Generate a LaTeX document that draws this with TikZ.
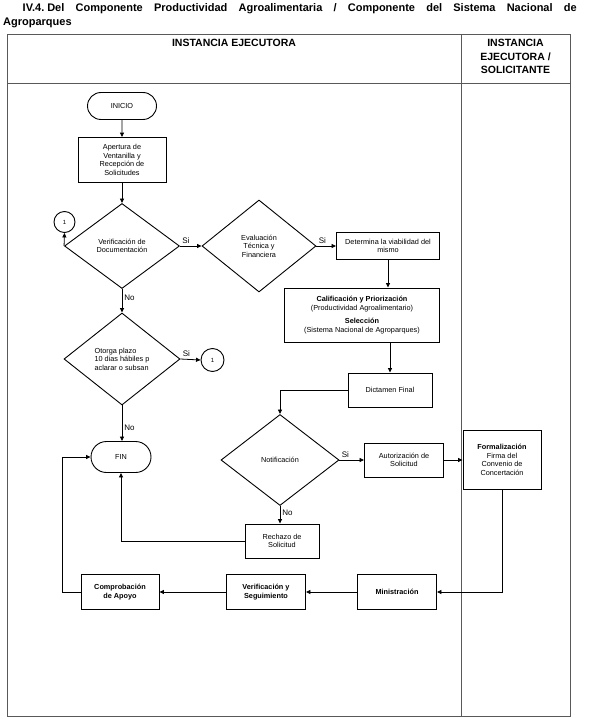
\documentclass[tikz,border=0pt]{standalone}
\usepackage{fontspec}
\setmainfont{Liberation Sans}
\usetikzlibrary{shapes.geometric,shapes.misc,arrows.meta}
\newcommand{\nodefont}{\fontsize{7.3}{8.6}\selectfont}
\newcommand{\labfont}{\fontsize{8}{9}\selectfont}
\tikzset{
  tbl/.style={draw=black!65, line width=0.8pt},
  hdr/.style={font=\bfseries\fontsize{10.5}{13.5}\selectfont, align=center, inner sep=0pt},
  boxn/.style={draw, line width=0.9pt, rectangle, inner sep=1pt, align=center, font=\nodefont},
  dia/.style={draw, line width=0.9pt, diamond, inner sep=0pt, align=center, font=\nodefont},
  term/.style={draw, line width=0.9pt, rounded rectangle, inner sep=0pt, font=\nodefont},
  conn/.style={draw, line width=0.9pt, circle, inner sep=0pt, font=\fontsize{6}{7}\selectfont},
  arr/.style={-{Triangle[length=4.5pt,width=4pt]}, line width=0.8pt},
  lab/.style={font=\labfont, inner sep=2pt},
}
\begin{document}
\begin{tikzpicture}[x=1pt,y=-1pt]
\useasboundingbox (0,0) rectangle (589,719);
% title
\node[anchor=west, inner sep=0pt, font=\bfseries\fontsize{11}{13}\selectfont] (t1) at (22.5,9)
  {\hbox to 554pt{IV.4.\hskip 3pt plus 1fil Del\hfill Componente\hfill Productividad\hfill Agroalimentaria\hfill /\hfill Componente\hfill del\hfill Sistema\hfill Nacional\hfill de}};
\node[anchor=west, inner sep=0pt, font=\bfseries\fontsize{11}{13}\selectfont] (t2) at (3,23) {Agroparques};
% table
\draw[tbl] (7,34) rectangle (570,716);
\draw[tbl] (7,83) -- (570,83);
\draw[tbl] (461,34) -- (461,716);
\node[hdr, anchor=north] (h1) at (234,39) {INSTANCIA EJECUTORA};
\node[hdr, anchor=north] (h2) at (515.5,39) {INSTANCIA\\EJECUTORA /\\SOLICITANTE};
% nodes
\node[term, minimum width=69pt, minimum height=27pt] (ini) at (122,106) {INICIO};
\node[boxn, minimum width=88pt, minimum height=45pt] (ap) at (122,160) {Apertura de\\Ventanilla y\\Recepción de\\Solicitudes};
\node[dia, minimum width=115pt, minimum height=85pt] (vd) at (122,246) {Verificación de\\Documentación};
\node[conn, minimum size=21pt] (c1) at (64.5,222) {1};
\node[dia, minimum width=114pt, minimum height=92pt] (ed) at (259,246) {Evaluación\\Técnica y\\Financiera};
\node[boxn, minimum width=103pt, minimum height=27pt] (det) at (388,246) {Determina la viabilidad del\\mismo};
\node[boxn, minimum width=155pt, minimum height=54pt] (cal) at (362,315) {{\bfseries Calificación y Priorización}\\(Productividad Agroalimentario)\\[5pt]{\bfseries Selección}\\(Sistema Nacional de Agroparques)};
\node[dia, minimum width=116pt, minimum height=92pt, align=left] (od) at (122,359) {Otorga plazo\\10 dias hábiles p\\aclarar o subsan};
\node[conn, minimum size=23pt] (c2) at (212.5,360) {1};
\node[boxn, minimum width=84pt, minimum height=34pt] (dic) at (390,390) {Dictamen Final};
\node[dia, minimum width=118pt, minimum height=91pt] (nd) at (280,460) {Notificación};
\node[boxn, minimum width=79pt, minimum height=34pt] (aut) at (404,460) {Autorización de\\Solicitud};
\node[boxn, minimum width=78pt, minimum height=59pt] (form) at (502,460) {{\bfseries Formalización}\\Firma del\\Convenio de\\Concertación};
\node[boxn, minimum width=74pt, minimum height=34pt] (rz) at (282,541) {Rechazo de\\Solicitud};
\node[term, minimum width=60pt, minimum height=31pt] (fin) at (121,457) {FIN};
\node[boxn, minimum width=78pt, minimum height=35pt, font=\nodefont\bfseries] (cp) at (120,592) {Comprobación\\de Apoyo};
\node[boxn, minimum width=79pt, minimum height=35pt, font=\nodefont\bfseries] (vs) at (266,592) {Verificación y\\Seguimiento};
\node[boxn, minimum width=79pt, minimum height=35pt, font=\nodefont\bfseries] (mi) at (397,592) {Ministración};
\coordinate (k1) at (62,592);
% connectors
\draw[arr] (ini) -- (ap);
\draw[arr] (ap) -- (vd);
\draw[arr] (vd.west) -- (c1.south);
\draw[arr] (vd.east) -- node[lab, at start, anchor=south west]{Si} (ed.west);
\draw[arr] (ed.east) -- node[lab, at start, anchor=south west]{Si} (det.west);
\draw[arr] (det.south) -- (det.south |- cal.north);
\draw[arr] (dic.north |- cal.south) -- (dic.north);
\draw[arr] (vd.south) -- node[lab, right, pos=0.36]{No} (od.north);
\draw[arr] (od.east) -- node[lab, at start, anchor=south west]{Si} (c2.west);
\draw[arr] (od.south) -- node[lab, right, pos=0.62]{No} (od.south |- fin.north);
\draw[arr] (dic.west) -| (nd.north);
\draw[arr] (nd.east) -- node[lab, at start, anchor=south west]{Si} (aut.west);
\draw[arr] (nd.south) -- node[lab, right, pos=0.37]{No} (nd.south |- rz.north);
\draw[arr] (aut.east) -- (form.west);
\draw[arr] (rz.west) -| (fin.south);
\draw[arr] (form.south) |- (mi.east);
\draw[arr] (mi) -- (vs);
\draw[arr] (vs) -- (cp);
\draw[arr] (cp.west) -- (k1) |- (fin.west);
\end{tikzpicture}
\end{document}
